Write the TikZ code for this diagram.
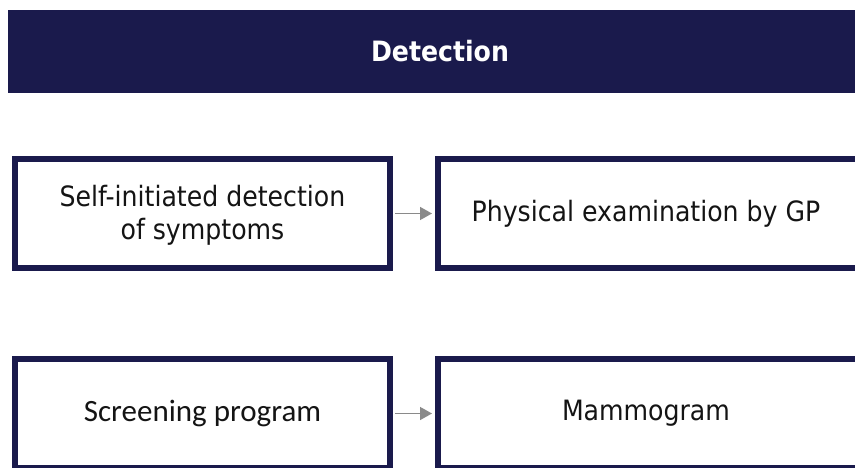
\documentclass[tikz,border=0pt]{standalone}
\usepackage{fontspec}
\setmainfont{DejaVu Sans Condensed}
\newfontfamily\carlito{Carlito}
\usetikzlibrary{arrows.meta}
\definecolor{navy}{RGB}{26,26,76}
\definecolor{arrowgray}{RGB}{138,138,138}
\definecolor{ink}{RGB}{20,20,20}
\tikzset{
  stepbox/.style={draw=navy, line width=6pt, fill=white, rectangle,
    minimum height=109pt, inner sep=0pt, text=ink, align=center,
    font=\fontsize{28}{33}\selectfont},
  flow/.style={draw=arrowgray, line width=1.5pt,
    -{Triangle[length=12pt,width=13pt]}, shorten <=2pt, shorten >=3pt}
}
\begin{document}
\begin{tikzpicture}[x=1pt,y=-1pt]
  \useasboundingbox (0,0) rectangle (855,468);
  \clip (0,0) rectangle (855,468);
  % title bar
  \fill[navy] (8,10) rectangle (860,93);
  \node (title) at (440,51.5) {\fontsize{28}{30}\selectfont\bfseries\color{white}Detection};
  % first route
  \node[stepbox, minimum width=375pt] (self) at (202.5,213.5)
    {\rule{0pt}{25pt}Self-initiated detection\\of symptoms\rule[-3pt]{0pt}{3pt}};
  \node[stepbox, minimum width=421pt] (gp) at (648.5,213.5)
    {\hspace*{-5pt}Physical examination by GP};
  % second route
  \node[stepbox, minimum width=375pt, font=\carlito\fontsize{31}{33}\selectfont] (screen) at (202.5,413.5)
    {Screening program};
  \node[stepbox, minimum width=421pt] (mammo) at (648.5,413.5)
    {\hspace*{-5pt}Mammogram};
  \draw[flow] (self.east) -- (gp.west);
  \draw[flow] (screen.east) -- (mammo.west);
\end{tikzpicture}
\end{document}
